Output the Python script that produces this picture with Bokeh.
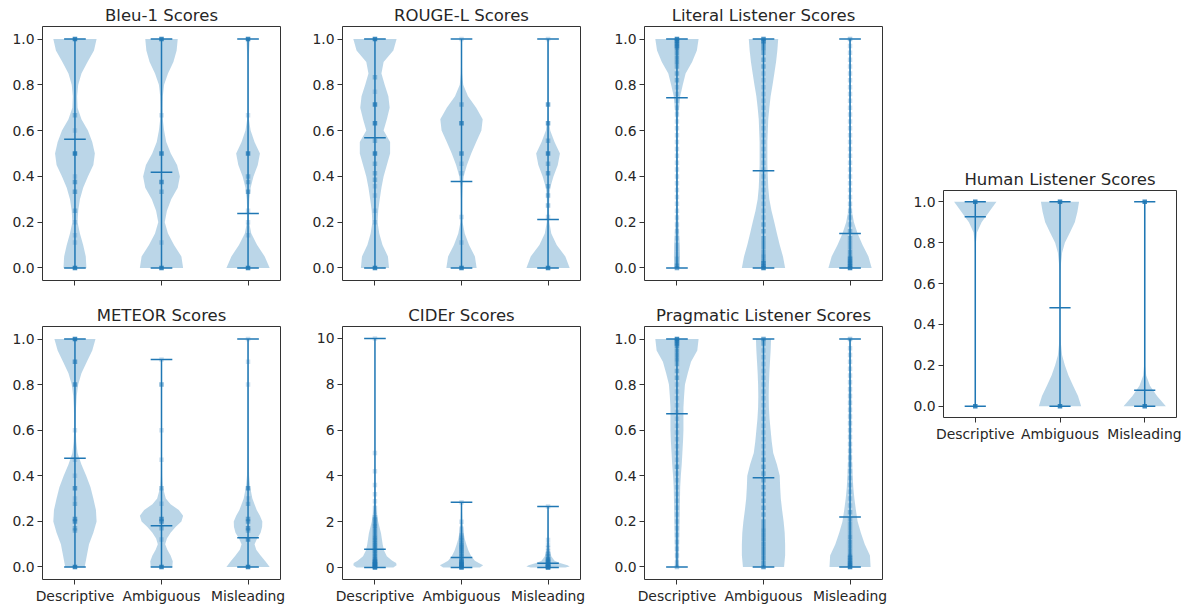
from bokeh.plotting import figure
from bokeh.models import Range1d, FixedTicker, PrintfTickFormatter, ColumnDataSource, Spacer
from bokeh.layouts import row, column
from bokeh.embed import file_html
from bokeh.resources import INLINE

# ---------------- data ----------------
CATEGORIES = ["Descriptive", "Ambiguous", "Misleading"]
POSITIONS = [1, 2, 3]

U21 = [0.0, 0.05, 0.1, 0.15, 0.2, 0.25, 0.3, 0.35, 0.4, 0.45, 0.5,
       0.55, 0.6, 0.65, 0.7, 0.75, 0.8, 0.85, 0.9, 0.95, 1.0]
UNIT_TICKS = [0.0, 0.2, 0.4, 0.6, 0.8, 1.0]
CIDER_TICKS = [0, 2, 4, 6, 8, 10]

# relative violin half-widths (1 = widest) read at the levels in *_Y
BLEU_Y = [U21, U21, U21]
BLEU_W = [
    [0.53, 0.5, 0.38, 0.23, 0.12, 0.15, 0.23, 0.38, 0.6, 0.85, 0.92, 0.8, 0.6, 0.3, 0.12, 0.1, 0.15, 0.3, 0.58, 0.88, 1.0],
    [1.0, 0.92, 0.58, 0.3, 0.15, 0.25, 0.45, 0.75, 0.85, 0.72, 0.43, 0.22, 0.12, 0.06, 0.05, 0.06, 0.12, 0.3, 0.55, 0.7, 0.75],
    [1.0, 0.77, 0.42, 0.15, 0.05, 0.04, 0.06, 0.12, 0.25, 0.45, 0.55, 0.3, 0.12, 0.04, 0.03, 0.03, 0.03, 0.03, 0.03, 0.05, 0.08],
]
BLEU_MEAN = [0.562, 0.418, 0.238]
BLEU_DOT_V = [
    [1.0, 0.667, 0.6, 0.5, 0.4, 0.375, 0.333, 0.25, 0.2, 0.143, 0.111, 0.0],
    [1.0, 0.667, 0.5, 0.375, 0.333, 0.111, 0.0],
    [1.0, 0.667, 0.5, 0.4, 0.375, 0.333, 0.25, 0.2, 0.143, 0.0],
]
BLEU_DOT_N = [
    [8, 2, 1, 8, 1, 3, 3, 2, 1, 1, 1, 8],
    [8, 1, 6, 5, 2, 1, 8],
    [8, 1, 6, 2, 2, 3, 1, 1, 1, 8],
]

ROUGE_Y = [U21, U21, U21]
ROUGE_W = [
    [0.65, 0.6, 0.35, 0.2, 0.12, 0.15, 0.22, 0.3, 0.4, 0.55, 0.7, 0.7, 0.4, 0.55, 0.68, 0.62, 0.45, 0.3, 0.4, 0.85, 1.0],
    [0.7, 0.62, 0.35, 0.15, 0.05, 0.03, 0.03, 0.05, 0.1, 0.25, 0.45, 0.68, 0.92, 0.98, 0.68, 0.3, 0.08, 0.03, 0.02, 0.02, 0.02],
    [1.0, 0.8, 0.4, 0.15, 0.06, 0.05, 0.06, 0.1, 0.25, 0.45, 0.55, 0.3, 0.1, 0.04, 0.03, 0.03, 0.03, 0.03, 0.03, 0.03, 0.03],
]
ROUGE_MEAN = [0.569, 0.378, 0.212]
ROUGE_DOT_V = [
    [1.0, 0.833, 0.77, 0.714, 0.632, 0.556, 0.5, 0.455, 0.414, 0.385, 0.357, 0.316, 0.25, 0.2, 0.0],
    [1.0, 0.714, 0.632, 0.5, 0.455, 0.414, 0.222, 0.111, 0.0],
    [1.0, 0.714, 0.632, 0.556, 0.5, 0.455, 0.414, 0.357, 0.316, 0.273, 0.222, 0.0],
]
ROUGE_DOT_N = [
    [8, 2, 1, 6, 6, 2, 6, 2, 2, 2, 1, 1, 1, 1, 8],
    [1, 2, 6, 4, 1, 1, 1, 1, 8],
    [1, 4, 4, 2, 6, 2, 3, 2, 2, 2, 1, 8],
]

LIT_Y = [U21, U21, U21]
LIT_W = [
    [0.12, 0.14, 0.13, 0.1, 0.07, 0.05, 0.05, 0.05, 0.05, 0.05, 0.05, 0.05, 0.05, 0.05, 0.1, 0.15, 0.27, 0.4, 0.7, 0.92, 1.0],
    [1.0, 0.9, 0.75, 0.62, 0.5, 0.37, 0.27, 0.22, 0.2, 0.18, 0.18, 0.18, 0.2, 0.22, 0.27, 0.33, 0.42, 0.5, 0.58, 0.64, 0.68],
    [1.0, 0.85, 0.58, 0.35, 0.18, 0.08, 0.05, 0.04, 0.04, 0.04, 0.04, 0.04, 0.04, 0.04, 0.04, 0.04, 0.04, 0.04, 0.04, 0.04, 0.04],
]
LIT_MEAN = [0.744, 0.425, 0.15]
LIT_DOT_V = [
    [0.0, 0.01, 0.02, 0.04, 0.06, 0.08, 0.1, 0.13, 0.16, 0.19, 0.22, 0.25, 0.28, 0.31, 0.34, 0.37, 0.4,
     0.43, 0.46, 0.49, 0.52, 0.55, 0.58, 0.61, 0.64, 0.67, 0.7, 0.73, 0.76, 0.79, 0.82, 0.85, 0.88,
     0.9, 0.92, 0.94, 0.96, 0.97, 0.98, 0.99, 1.0],
    [0.0, 0.01, 0.02, 0.03, 0.05, 0.07, 0.09, 0.11, 0.13, 0.16, 0.19, 0.22, 0.25, 0.28, 0.31, 0.34, 0.37,
     0.4, 0.43, 0.46, 0.49, 0.52, 0.55, 0.58, 0.61, 0.64, 0.67, 0.7, 0.73, 0.76, 0.79, 0.82, 0.85, 0.88,
     0.91, 0.94, 0.96, 0.98, 0.99, 1.0],
    [0.0, 0.01, 0.02, 0.03, 0.04, 0.05, 0.07, 0.09, 0.11, 0.13, 0.16, 0.19, 0.22, 0.25, 0.28, 0.31, 0.34,
     0.37, 0.4, 0.43, 0.46, 0.49, 0.52, 0.55, 0.58, 0.61, 0.64, 0.67, 0.7, 0.73, 0.76, 0.79, 0.82, 0.85,
     0.88, 0.91, 0.94, 0.97, 1.0],
]
LIT_DOT_N = [
    [4, 2, 2, 2, 1, 1, 1, 1, 1, 1, 1, 1, 1, 1, 1, 1, 1, 1, 1, 1, 1, 1, 1, 1, 1, 1, 1, 1, 1, 1, 2, 2, 2,
     3, 3, 3, 4, 4, 5, 6, 8],
    [8, 5, 4, 3, 3, 2, 2, 2, 2, 2, 2, 1, 1, 1, 1, 1, 1, 1, 1, 1, 1, 1, 1, 1, 1, 1, 1, 1, 1, 1, 1, 1, 1,
     2, 2, 2, 3, 3, 4, 6],
    [8, 6, 5, 4, 4, 3, 3, 2, 2, 2, 2, 1, 1, 1, 1, 1, 1, 1, 1, 1, 1, 1, 1, 1, 1, 1, 1, 1, 1, 1, 1, 1, 1,
     1, 1, 1, 1, 1, 2],
]

METEOR_Y = [
    U21,
    [0.0, 0.025, 0.05, 0.075, 0.1, 0.125, 0.15, 0.175, 0.2, 0.225, 0.25, 0.275, 0.3, 0.35, 0.4, 0.5, 0.6, 0.7, 0.8, 0.91],
    [0.0, 0.025, 0.05, 0.075, 0.1, 0.125, 0.15, 0.175, 0.2, 0.225, 0.25, 0.3, 0.35, 0.4, 0.5, 0.6, 0.7, 0.8, 0.9, 1.0],
]
METEOR_W = [
    [0.45, 0.55, 0.65, 0.85, 1.0, 0.97, 0.85, 0.72, 0.52, 0.3, 0.12, 0.06, 0.04, 0.04, 0.05, 0.08, 0.15, 0.3, 0.55, 0.8, 0.95],
    [0.5, 0.52, 0.42, 0.27, 0.17, 0.25, 0.42, 0.65, 0.92, 1.0, 0.8, 0.42, 0.2, 0.06, 0.03, 0.02, 0.02, 0.02, 0.02, 0.02],
    [1.0, 0.8, 0.58, 0.38, 0.3, 0.42, 0.58, 0.65, 0.66, 0.55, 0.4, 0.2, 0.1, 0.05, 0.03, 0.03, 0.03, 0.03, 0.02, 0.02],
]
METEOR_MEAN = [0.477, 0.181, 0.128]
METEOR_DOT_V = [
    [1.0, 0.9, 0.8, 0.6, 0.47, 0.4, 0.345, 0.3, 0.277, 0.21, 0.2, 0.17, 0.16, 0.0],
    [0.91, 0.8, 0.6, 0.47, 0.345, 0.277, 0.21, 0.2, 0.17, 0.12, 0.0],
    [1.0, 0.9, 0.8, 0.345, 0.3, 0.277, 0.21, 0.2, 0.17, 0.16, 0.12, 0.0],
]
METEOR_DOT_N = [
    [8, 4, 4, 1, 1, 1, 4, 1, 2, 4, 4, 2, 2, 8],
    [1, 3, 1, 1, 2, 1, 5, 4, 2, 1, 8],
    [1, 1, 1, 4, 1, 2, 3, 3, 4, 2, 4, 8],
]

CIDER_Y = [
    [0.0, 0.1, 0.2, 0.3, 0.5, 0.75, 1.0, 1.5, 2.0, 2.5, 3.0, 4.0, 5.0, 7.0, 10.0],
    [0.0, 0.1, 0.2, 0.3, 0.5, 0.75, 1.0, 1.25, 1.5, 2.0, 2.85],
    [0.0, 0.05, 0.1, 0.2, 0.3, 0.5, 0.75, 1.0, 1.5, 2.0, 2.67],
]
CIDER_W = [
    [0.85, 1.0, 0.98, 0.8, 0.55, 0.42, 0.36, 0.28, 0.15, 0.07, 0.04, 0.02, 0.01, 0.005, 0.003],
    [0.85, 1.0, 0.8, 0.62, 0.45, 0.32, 0.23, 0.15, 0.1, 0.04, 0.01],
    [0.8, 1.0, 0.9, 0.55, 0.3, 0.15, 0.08, 0.05, 0.03, 0.02, 0.01],
]
CIDER_MEAN = [0.80, 0.44, 0.19]
CIDER_DOT_V = [
    [0.0, 0.05, 0.1, 0.15, 0.2, 0.25, 0.3, 0.4, 0.5, 0.6, 0.7, 0.8, 0.9, 1.0, 1.1, 1.2, 1.3, 1.4, 1.5, 1.6,
     1.7, 1.8, 1.9, 2.0, 2.1, 2.2, 2.4, 2.6, 2.9, 3.2, 3.6, 4.2, 5.0, 10.0],
    [0.0, 0.05, 0.1, 0.15, 0.2, 0.25, 0.3, 0.4, 0.5, 0.6, 0.7, 0.8, 0.9, 1.0, 1.1, 1.2, 1.3, 1.4, 1.5,
     1.7, 2.0, 2.85],
    [0.0, 0.03, 0.06, 0.1, 0.15, 0.2, 0.25, 0.3, 0.35, 0.4, 0.5, 0.6, 0.7, 0.85, 1.0, 1.2, 2.67],
]
CIDER_DOT_N = [
    [8, 6, 6, 6, 5, 5, 4, 4, 3, 3, 3, 3, 3, 3, 3, 3, 3, 2, 2, 2, 2, 3, 2, 2, 2, 2, 1, 1, 1, 1, 1, 1, 1, 1],
    [8, 5, 5, 4, 4, 4, 3, 3, 3, 3, 3, 3, 3, 3, 2, 2, 2, 1, 1, 1, 1, 1],
    [8, 6, 5, 4, 4, 3, 3, 3, 3, 2, 2, 2, 1, 1, 1, 1, 1],
]

PRAG_Y = [U21, U21, U21]
PRAG_W = [
    [0.08, 0.09, 0.1, 0.11, 0.12, 0.13, 0.14, 0.15, 0.18, 0.22, 0.25, 0.28, 0.3, 0.3, 0.3, 0.33, 0.37, 0.5, 0.65, 0.94, 1.0],
    [0.95, 1.0, 1.0, 0.98, 0.93, 0.86, 0.8, 0.77, 0.75, 0.62, 0.45, 0.38, 0.33, 0.28, 0.25, 0.24, 0.25, 0.27, 0.3, 0.33, 0.35],
    [0.95, 0.92, 0.68, 0.5, 0.35, 0.27, 0.2, 0.15, 0.12, 0.1, 0.08, 0.07, 0.07, 0.07, 0.07, 0.07, 0.06, 0.05, 0.05, 0.05, 0.05],
]
PRAG_MEAN = [0.672, 0.391, 0.219]
PRAG_DOT_V = [
    [0.0, 0.02, 0.05, 0.08, 0.11, 0.14, 0.17, 0.2, 0.23, 0.26, 0.29, 0.32, 0.35, 0.38, 0.41, 0.44, 0.47,
     0.5, 0.53, 0.56, 0.59, 0.62, 0.65, 0.68, 0.71, 0.74, 0.77, 0.8, 0.83, 0.86, 0.89, 0.91, 0.93, 0.95,
     0.97, 0.98, 0.99, 1.0],
    [0.0, 0.02, 0.04, 0.06, 0.08, 0.1, 0.12, 0.14, 0.16, 0.18, 0.2, 0.23, 0.26, 0.29, 0.32, 0.35, 0.38,
     0.41, 0.44, 0.47, 0.5, 0.53, 0.56, 0.59, 0.62, 0.65, 0.68, 0.71, 0.74, 0.77, 0.8, 0.83, 0.86, 0.89,
     0.92, 0.95, 0.98, 1.0],
    [0.0, 0.01, 0.02, 0.03, 0.04, 0.05, 0.07, 0.09, 0.11, 0.13, 0.15, 0.17, 0.19, 0.21, 0.24, 0.27, 0.3,
     0.33, 0.36, 0.39, 0.42, 0.45, 0.48, 0.51, 0.54, 0.57, 0.6, 0.63, 0.66, 0.69, 0.72, 0.75, 0.78, 0.81,
     0.84, 0.87, 0.9, 0.93, 0.96, 1.0],
]
PRAG_DOT_N = [
    [2, 1, 1, 1, 1, 1, 1, 1, 1, 1, 1, 1, 1, 1, 1, 2, 1, 1, 1, 1, 1, 1, 1, 1, 1, 1, 1, 1, 2, 2, 2, 3,
     3, 3, 4, 4, 5, 8],
    [5, 3, 3, 3, 3, 3, 3, 3, 3, 2, 2, 2, 2, 2, 2, 2, 2, 2, 2, 2, 1, 1, 1, 1, 1, 1, 1, 1, 1, 1, 1, 1,
     1, 1, 1, 1, 2, 4],
    [8, 6, 5, 4, 4, 4, 3, 3, 3, 3, 2, 2, 2, 2, 2, 1, 1, 1, 1, 1, 1, 1, 1, 1, 1, 1, 1, 1, 1, 1, 1, 1,
     1, 1, 1, 1, 1, 1, 1, 2],
]

HUMAN_Y = [U21, U21, U21]
HUMAN_W = [
    [0.02, 0.02, 0.02, 0.02, 0.02, 0.02, 0.02, 0.02, 0.02, 0.02, 0.02, 0.02, 0.02, 0.02, 0.02, 0.02, 0.03, 0.08, 0.3, 0.65, 1.0],
    [1.0, 0.85, 0.62, 0.4, 0.23, 0.1, 0.05, 0.03, 0.03, 0.03, 0.03, 0.03, 0.03, 0.03, 0.05, 0.1, 0.23, 0.47, 0.7, 0.82, 0.9],
    [1.0, 0.58, 0.25, 0.07, 0.03, 0.03, 0.03, 0.03, 0.03, 0.03, 0.03, 0.03, 0.03, 0.03, 0.03, 0.03, 0.03, 0.03, 0.03, 0.03, 0.03],
]
HUMAN_MEAN = [0.927, 0.482, 0.078]
HUMAN_DOT_V = [[1.0, 0.0], [1.0, 0.0], [1.0, 0.0]]
HUMAN_DOT_N = [[8, 8], [8, 8], [8, 8]]

# ---------------- styling ----------------
C0 = "#1f77b4"
FONT = "DejaVu Sans"
TEXT = "#262626"
SPINE = "#333333"
HALF = 0.25      # max half-width of a violin (x units)
CAP = 0.125      # half-length of the extrema / mean bars


def make_panel(title, ys, ws, means, dots_v, dots_n, ylim, yticks, yfmt,
               xlabels, frame_w, frame_h, bl, br, bt, bb):
    p = figure(width=bl + frame_w + br, height=bt + frame_h + bb,
               x_range=Range1d(0.625, 3.375), y_range=Range1d(*ylim),
               output_backend="svg", toolbar_location=None, title=title,
               min_border_left=bl, min_border_right=br,
               min_border_top=bt, min_border_bottom=bb)
    p.title.align = "center"
    p.title.text_font = FONT
    p.title.text_font_size = "16.5px"
    p.title.text_font_style = "normal"
    p.title.text_color = TEXT
    p.title.standoff = 4
    p.outline_line_color = SPINE
    p.outline_line_width = 1
    p.grid.visible = False
    p.background_fill_color = "white"
    p.border_fill_color = "white"

    for i, pos in enumerate(POSITIONS):
        yv, wv = ys[i], ws[i]
        xs = [pos + HALF * w for w in wv] + [pos - HALF * w for w in reversed(wv)]
        yy = list(yv) + list(reversed(yv))
        p.patch(xs, yy, fill_color=C0, fill_alpha=0.3, line_color=None)

    for i, pos in enumerate(POSITIONS):
        lo, hi = min(ys[i]), max(ys[i])
        p.segment(x0=[pos], y0=[lo], x1=[pos], y1=[hi], line_color=C0, line_width=1.5)
        for v in (lo, hi, means[i]):
            p.segment(x0=[pos - CAP], y0=[v], x1=[pos + CAP], y1=[v],
                      line_color=C0, line_width=1.5)
        src = ColumnDataSource(dict(
            x=[pos] * len(dots_v[i]), y=dots_v[i],
            a=[1 - (1 - 0.22) ** n for n in dots_n[i]]))
        p.scatter("x", "y", source=src, size=4.5, marker="square", fill_color=C0,
                  fill_alpha="a", line_color=None)

    p.xaxis.ticker = FixedTicker(ticks=POSITIONS)
    p.xaxis.major_label_overrides = {pos: (CATEGORIES[i] if xlabels else "")
                                     for i, pos in enumerate(POSITIONS)}
    p.yaxis.ticker = FixedTicker(ticks=yticks)
    p.yaxis.formatter = PrintfTickFormatter(format=yfmt)
    for ax in (p.xaxis, p.yaxis):
        ax.axis_line_color = None
        ax.major_tick_line_color = SPINE
        ax.major_tick_line_width = 1
        ax.major_tick_out = 5
        ax.major_tick_in = 0
        ax.minor_tick_line_color = None
        ax.major_label_text_font = FONT
        ax.major_label_text_font_size = "13.9px"
        ax.major_label_text_color = TEXT
    p.xaxis.major_label_standoff = 3
    p.yaxis.major_label_standoff = 3
    return p


UY = (-0.055, 1.055)
CY = (-0.52, 10.52)

# borders: left, right, top, bottom (pixels)
p1 = make_panel("Bleu-1 Scores", BLEU_Y, BLEU_W, BLEU_MEAN, BLEU_DOT_V, BLEU_DOT_N,
                UY, UNIT_TICKS, "%.1f", False, 238, 254, 42, 28, 26, 20)
p2 = make_panel("ROUGE-L Scores", ROUGE_Y, ROUGE_W, ROUGE_MEAN, ROUGE_DOT_V, ROUGE_DOT_N,
                UY, UNIT_TICKS, "%.1f", False, 238, 254, 34, 30, 26, 20)
p3 = make_panel("Literal Listener Scores", LIT_Y, LIT_W, LIT_MEAN, LIT_DOT_V, LIT_DOT_N,
                UY, UNIT_TICKS, "%.1f", False, 238, 254, 34, 26, 26, 20)
p5 = make_panel("METEOR Scores", METEOR_Y, METEOR_W, METEOR_MEAN, METEOR_DOT_V, METEOR_DOT_N,
                UY, UNIT_TICKS, "%.1f", True, 238, 253, 42, 28, 26, 29)
p6 = make_panel("CIDEr Scores", CIDER_Y, CIDER_W, CIDER_MEAN, CIDER_DOT_V, CIDER_DOT_N,
                CY, CIDER_TICKS, "%d", True, 238, 253, 34, 30, 26, 29)
p7 = make_panel("Pragmatic Listener Scores", PRAG_Y, PRAG_W, PRAG_MEAN, PRAG_DOT_V, PRAG_DOT_N,
                UY, UNIT_TICKS, "%.1f", True, 238, 253, 34, 26, 26, 29)
p4 = make_panel("Human Listener Scores", HUMAN_Y, HUMAN_W, HUMAN_MEAN, HUMAN_DOT_V, HUMAN_DOT_N,
                UY, UNIT_TICKS, "%.1f", True, 233, 228, 35, 5, 26, 26)

left = column(row(p1, p2, p3, spacing=0), row(p5, p6, p7, spacing=0), spacing=0)
right = column(Spacer(width=273, height=164), p4, spacing=0)
layout = row(left, right, spacing=0)

open("out.html", "w").write(file_html(layout, INLINE))
